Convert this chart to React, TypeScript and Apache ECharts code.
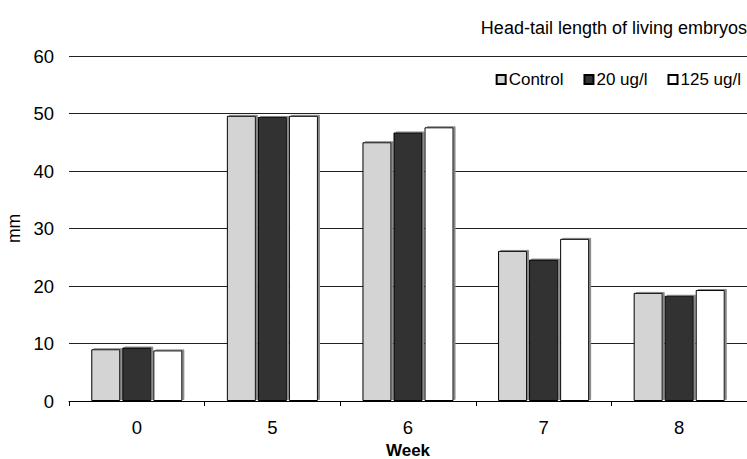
import React, { useEffect, useRef } from "react";
import * as echarts from "echarts";

const weeks = ["0", "5", "6", "7", "8"];
const seriesNames = ["Control", "20 ug/l", "125 ug/l"];
const control = [9.0, 49.6, 45.0, 26.1, 18.8];
const ug20 = [9.3, 49.4, 46.7, 24.6, 18.3];
const ug125 = [8.8, 49.6, 47.6, 28.2, 19.3];
const yTicks = { min: 0, max: 60, interval: 10 };
const colors = ["#d4d4d4", "#333333", "#ffffff"];

export default function App() {
  const ref = useRef<HTMLDivElement>(null);
  useEffect(() => {
    if (!ref.current) return;
    const chart = echarts.init(ref.current, null, { renderer: "svg" });
    const font = "'Liberation Sans', Arial, sans-serif";
    const values = [control, ug20, ug125];
    chart.setOption({
      animation: false,
      textStyle: { fontFamily: font },
      title: {
        text: "Head-tail length of living embryos",
        right: 0,
        top: 19,
        padding: 0,
        textStyle: { fontSize: 18, fontWeight: "normal", color: "#000", fontFamily: font },
      },
      legend: {
        data: seriesNames,
        right: 6,
        top: 71,
        padding: 0,
        itemWidth: 9,
        itemHeight: 9,
        itemGap: 20,
        icon: "rect",
        textStyle: { fontSize: 17, color: "#000", fontFamily: font, padding: [0, 0, 0, -2] },
      },
      grid: { left: 69, right: 0, top: 56, bottom: 58, containLabel: false, outerBoundsMode: "none" },
      xAxis: {
        type: "category",
        data: weeks,
        name: "Week",
        nameLocation: "middle",
        nameGap: 35,
        nameTextStyle: { fontSize: 17, fontWeight: "bold", color: "#000", fontFamily: font },
        axisLine: { lineStyle: { color: "#000", width: 1 } },
        axisTick: { show: true, length: 5, lineStyle: { color: "#000" } },
        axisLabel: { fontSize: 18.5, color: "#000", margin: 17, fontFamily: font },
      },
      yAxis: {
        type: "value",
        min: yTicks.min,
        max: yTicks.max,
        interval: yTicks.interval,
        name: "mm",
        nameLocation: "middle",
        nameGap: 46,
        nameTextStyle: { fontSize: 17.5, color: "#000", fontFamily: font },
        axisLine: { show: false },
        axisTick: { show: false },
        axisLabel: { fontSize: 18.5, color: "#000", margin: 15, fontFamily: font },
        splitLine: { lineStyle: { color: "#222", width: 1 } },
      },
      series: seriesNames.map((name, i) => ({
        name,
        type: "bar",
        data: values[i],
        barWidth: 29,
        barGap: "7%",
        itemStyle: {
          color: colors[i],
          borderColor: "#000",
          borderWidth: 1,
          shadowColor: "#888",
          shadowBlur: 0,
          shadowOffsetX: 2,
          shadowOffsetY: -1,
        },
      })),
    });
    return () => chart.dispose();
  }, []);
  return <div ref={ref} style={{ width: 747, height: 459, position: "absolute", left: 0, top: 0 }} />;
}
